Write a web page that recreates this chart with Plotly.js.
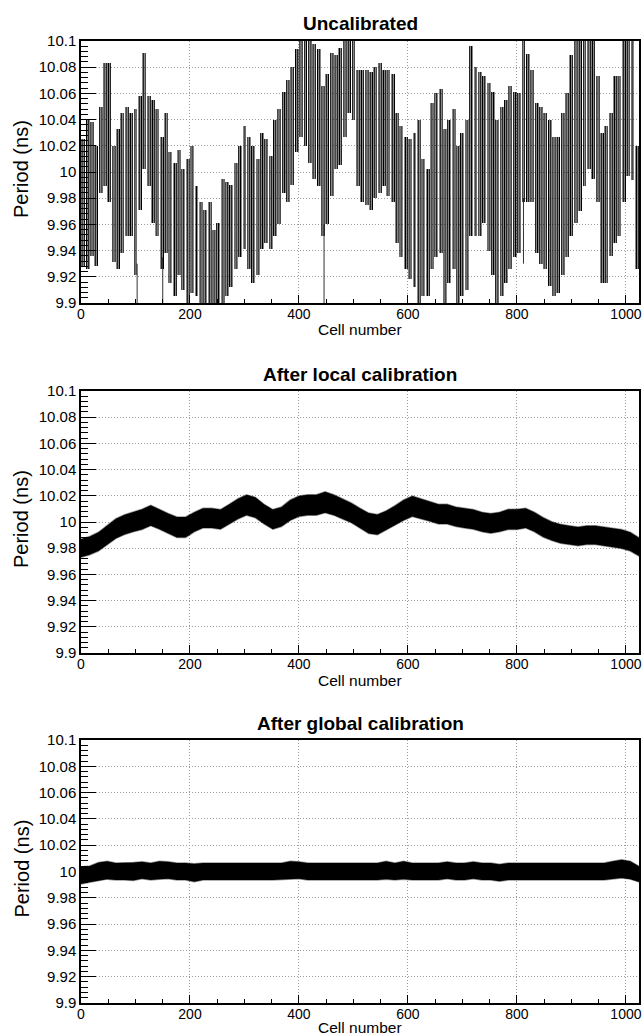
<!DOCTYPE html>
<html>
<head>
<meta charset="utf-8">
<script src="https://cdn.plot.ly/plotly-3.0.1.min.js"></script>
<style>
  html, body { margin: 0; padding: 0; background: #fff; }
  #chart { width: 644px; height: 1036px; }
</style>
</head>
<body>
<div id="chart"></div>
<script>
// ---------- data ----------
const PANEL_TITLES = ["Uncalibrated", "After local calibration", "After global calibration"];
const X_TITLE = "Cell number";
const Y_TITLE = "Period (ns)";
const X_TICKS = [0, 200, 400, 600, 800, 1000];
const X_TICK_LABELS = ["0", "200", "400", "600", "800", "1000"];
const Y_TICKS = [9.9, 9.92, 9.94, 9.96, 9.98, 10, 10.02, 10.04, 10.06, 10.08, 10.1];
const Y_TICK_LABELS = ["9.9", "9.92", "9.94", "9.96", "9.98", "10", "10.02", "10.04", "10.06", "10.08", "10.1"];

// Uncalibrated: spread of measured periods per group of 8 cells (group start cell)
const UNCAL_GROUP_START = [
  0,8,16,24,32,40,48,56,64,72,80,88,96,104,112,120,128,136,144,152,160,168,176,184,192,200,208,216,224,232,240,248,
  256,264,272,280,288,296,304,312,320,328,336,344,352,360,368,376,384,392,400,408,416,424,432,440,448,456,464,472,480,488,496,504,
  512,520,528,536,544,552,560,568,576,584,592,600,608,616,624,632,640,648,656,664,672,680,688,696,704,712,720,728,736,744,752,760,
  768,776,784,792,800,808,816,824,832,840,848,856,864,872,880,888,896,904,912,920,928,936,944,952,960,968,976,984,992,1000,1008,1016];
const UNCAL_HI = [
  10.025,10.040,10.038,10.020,10.050,10.083,10.083,10.020,10.033,10.045,
  10.050,10.045,10.048,10.058,10.091,10.058,10.055,10.048,10.027,10.045,
  10.015,10.007,10.017,10.002,10.010,10.020,9.989,9.977,9.971,9.977,
  9.956,9.961,9.995,9.992,9.990,10.007,10.020,10.035,10.027,10.020,
  10.010,10.030,10.025,10.012,10.040,10.048,10.061,10.070,10.080,10.094,
  10.1,10.1,10.1,10.098,10.094,10.066,10.075,10.091,10.089,10.095,
  10.1,10.1,10.1,10.078,10.078,10.078,10.076,10.080,10.083,10.078,
  10.078,10.075,10.045,10.035,10.027,10.025,10.030,10.040,10.010,10.002,
  10.053,10.060,10.063,10.033,10.040,10.048,10.020,10.030,10.040,10.096,
  10.080,10.076,10.073,10.068,10.061,10.040,10.050,10.055,10.066,10.061,
  10.060,10.1,10.090,10.078,10.053,10.050,10.045,10.040,10.027,10.027,
  10.045,10.060,10.089,10.1,10.1,10.1,10.1,10.1,10.073,10.030,
  10.035,10.045,10.073,10.073,10.1,10.1,10.1,10.020];
const UNCAL_LO = [
  9.928,9.926,9.936,9.928,9.984,9.989,9.977,9.931,9.926,9.938,
  9.951,9.951,9.921,9.971,10.002,9.989,9.961,9.951,9.926,9.938,
  9.915,9.905,9.921,9.910,9.900,9.908,9.905,9.900,9.900,9.900,
  9.900,9.900,9.900,9.905,9.912,9.926,9.935,9.941,9.926,9.915,
  9.921,9.941,9.946,9.941,9.951,9.960,9.984,9.977,9.990,10.015,
  10.027,10.020,10.007,9.995,9.989,9.951,9.960,9.982,10.002,10.005,
  10.027,10.045,10.040,9.989,9.977,9.975,9.971,9.980,9.984,9.989,
  9.982,9.977,9.946,9.935,9.926,9.918,9.912,9.900,9.905,9.905,
  9.926,9.935,9.938,9.900,9.915,9.926,9.900,9.905,9.910,9.951,
  9.951,9.951,9.961,9.940,9.921,9.900,9.905,9.915,9.926,9.935,
  9.938,9.977,9.977,9.977,9.938,9.930,9.926,9.913,9.905,9.908,
  9.921,9.935,9.951,9.961,9.970,9.989,10.002,9.995,9.977,9.915,
  9.915,9.936,9.946,9.951,9.977,9.997,9.994,9.926];
// isolated long streaks of single cells
const SPIKE_CELLS = [103, 150, 446, 812];
const SPIKE_LO = [9.900, 9.900, 9.900, 9.930];
const SPIKE_HI = [9.930, 9.935, 9.960, 9.980];

// Calibrated panels: band mean and half-width, sampled every 16 cells
const BAND_CELLS = [
  0,16,32,48,64,80,96,112,128,144,160,176,192,208,224,240,256,272,288,304,320,336,352,368,384,400,416,432,448,464,480,496,
  512,528,544,560,576,592,608,624,640,656,672,688,704,720,736,752,768,784,800,816,832,848,864,880,896,912,928,944,960,976,992,1008,1024];
const LOCAL_MEAN = [
  9.980,9.982,9.985,9.990,9.995,9.998,10.000,10.002,10.005,10.002,9.999,9.996,9.996,10.000,10.003,10.003,
  10.002,10.006,10.010,10.013,10.011,10.006,10.002,10.004,10.009,10.012,10.013,10.013,10.015,10.013,10.010,10.007,
  10.003,9.999,9.998,10.001,10.005,10.009,10.012,10.010,10.008,10.006,10.006,10.004,10.003,10.002,10.000,9.999,
  10.000,10.002,10.002,10.003,10.000,9.996,9.993,9.991,9.990,9.989,9.990,9.990,9.989,9.988,9.987,9.985,9.981];
const LOCAL_HALF = [
  0.0070,0.0070,0.0072,0.0075,0.0075,0.0075,0.0075,0.0078,0.0078,0.0075,0.0075,0.0078,0.0078,0.0075,0.0075,0.0075,
  0.0075,0.0075,0.0078,0.0078,0.0078,0.0075,0.0075,0.0075,0.0078,0.0078,0.0078,0.0078,0.0080,0.0078,0.0078,0.0075,
  0.0075,0.0078,0.0078,0.0075,0.0075,0.0078,0.0078,0.0078,0.0075,0.0075,0.0075,0.0075,0.0075,0.0075,0.0075,0.0075,
  0.0075,0.0078,0.0078,0.0075,0.0075,0.0075,0.0072,0.0072,0.0072,0.0072,0.0072,0.0072,0.0072,0.0072,0.0072,0.0072,0.0070];
const GLOBAL_MEAN = [
  9.997,9.998,10.000,10.001,10.000,10.000,10.000,10.001,10.000,10.001,10.001,10.000,10.000,9.999,10.000,10.000,
  10.000,10.000,10.000,10.000,10.000,10.000,10.000,10.000,10.001,10.001,10.000,10.000,10.000,10.000,10.000,10.000,
  10.000,10.000,10.000,10.001,10.000,10.001,10.000,10.000,10.000,10.000,10.001,10.000,10.000,10.001,10.000,10.000,
  9.999,10.000,10.000,10.000,10.000,10.000,10.000,10.000,10.000,10.000,10.000,10.000,10.000,10.001,10.002,10.001,9.998];
const GLOBAL_HALF = [
  0.0065,0.0062,0.0068,0.0068,0.0065,0.0065,0.0068,0.0065,0.0065,0.0068,0.0065,0.0065,0.0065,0.0068,0.0065,0.0065,
  0.0065,0.0065,0.0065,0.0065,0.0065,0.0065,0.0065,0.0065,0.0068,0.0065,0.0065,0.0065,0.0065,0.0065,0.0065,0.0065,
  0.0065,0.0065,0.0065,0.0068,0.0065,0.0068,0.0065,0.0065,0.0065,0.0065,0.0065,0.0065,0.0065,0.0065,0.0065,0.0065,
  0.0065,0.0065,0.0065,0.0065,0.0065,0.0065,0.0065,0.0065,0.0065,0.0065,0.0065,0.0065,0.0065,0.0068,0.0070,0.0068,0.0060];

// ---------- build traces ----------
const GROUP_SPAN = UNCAL_GROUP_START[1] - UNCAL_GROUP_START[0];
const uncal = {
  type: 'bar', xaxis: 'x', yaxis: 'y',
  x: UNCAL_GROUP_START.map(c => c + GROUP_SPAN / 2),
  y: UNCAL_HI.map((h, i) => h - UNCAL_LO[i]),
  base: UNCAL_LO,
  width: GROUP_SPAN * 0.9,
  marker: {
    color: 'rgba(0,0,0,0.45)',
    line: {width: 0},
    pattern: {shape: '|', fgcolor: '#000', bgcolor: 'rgba(0,0,0,0.22)', size: 2.2, solidity: 0.55}
  },
  hoverinfo: 'skip', showlegend: false
};
const spikeX = [], spikeY = [];
SPIKE_CELLS.forEach((c, i) => { spikeX.push(c, c, null); spikeY.push(SPIKE_LO[i], SPIKE_HI[i], null); });
const spikes = {
  type: 'scatter', mode: 'lines', xaxis: 'x', yaxis: 'y', x: spikeX, y: spikeY,
  line: {color: 'rgba(0,0,0,0.8)', width: 1}, hoverinfo: 'skip', showlegend: false
};

function band(mean, half, xa, ya) {
  const hi = mean.map((m, i) => m + half[i]);
  const lo = mean.map((m, i) => m - half[i]);
  return {
    type: 'scatter', mode: 'lines', xaxis: xa, yaxis: ya,
    x: BAND_CELLS.concat(BAND_CELLS.slice().reverse()),
    y: hi.concat(lo.slice().reverse()),
    fill: 'toself', fillcolor: '#000',
    line: {color: 'rgba(0,0,0,0.4)', width: 1.5},
    hoverinfo: 'skip', showlegend: false
  };
}

const traces = [uncal, spikes, band(LOCAL_MEAN, LOCAL_HALF, 'x2', 'y2'), band(GLOBAL_MEAN, GLOBAL_HALF, 'x3', 'y3')];

// ---------- layout ----------
const FONT = 'Liberation Sans, Arial, Helvetica, sans-serif';
const W = 644, H = 1036, ML = 81, MR = 5;
const PLOT_W = W - ML - MR;
const PANELS_PX = [[41, 303], [391, 653], [740, 1003]];
const X_TITLE_OFFSET = [27, 27, 24.5];

function xaxisDef(anchor) {
  return {
    anchor: anchor, domain: [0, 1], range: [0, 1024],
    tickmode: 'array', tickvals: X_TICKS, ticktext: X_TICK_LABELS,
    ticks: 'inside', ticklen: 8, tickwidth: 1, tickcolor: '#000',
    minor: {ticks: 'inside', ticklen: 4, dtick: 50, tickwidth: 1, tickcolor: '#000', showgrid: false},
    ticklabelstandoff: -3,
    showline: true, linecolor: '#000', linewidth: 1.5, mirror: true,
    showgrid: true, gridcolor: '#9a9a9a', griddash: '1px,2px', gridwidth: 1,
    zeroline: false, fixedrange: true, automargin: false,
    tickfont: {family: FONT, size: 14, color: '#000'}
  };
}
function yaxisDef(anchor, px) {
  return {
    anchor: anchor, domain: [1 - px[1] / H, 1 - px[0] / H], range: [9.9, 10.1],
    tickmode: 'array', tickvals: Y_TICKS, ticktext: Y_TICK_LABELS,
    ticks: 'inside', ticklen: 15, tickwidth: 1, tickcolor: '#000',
    minor: {ticks: 'inside', ticklen: 7, dtick: 0.004, tickwidth: 1, tickcolor: '#000', showgrid: false},
    showline: true, linecolor: '#000', linewidth: 1.5, mirror: true,
    showgrid: true, gridcolor: '#9a9a9a', griddash: '1px,2px', gridwidth: 1,
    zeroline: false, fixedrange: true, automargin: false,
    tickfont: {family: FONT, size: 15, color: '#000'}
  };
}

const annotations = [];
PANELS_PX.forEach((px, i) => {
  annotations.push({
    text: '<b>' + PANEL_TITLES[i] + '</b>', xref: 'paper', yref: 'paper',
    x: 0.5, y: 1 - (px[0] - 17) / H, xanchor: 'center', yanchor: 'middle',
    showarrow: false, font: {family: FONT, size: 19, color: '#000'}
  });
  annotations.push({
    text: X_TITLE, xref: 'paper', yref: 'paper',
    x: 0.5, y: 1 - (px[1] + X_TITLE_OFFSET[i]) / H, xanchor: 'center', yanchor: 'middle',
    showarrow: false, font: {family: FONT, size: 15.5, color: '#000'}
  });
  annotations.push({
    text: Y_TITLE, xref: 'paper', yref: 'paper', textangle: -90,
    x: (21 - ML) / PLOT_W, y: 1 - ((px[0] + px[1]) / 2 - 3) / H, xanchor: 'center', yanchor: 'middle',
    showarrow: false, font: {family: FONT, size: 20, color: '#000'}
  });
});

const layout = {
  width: W, height: H,
  margin: {l: ML, r: MR, t: 0, b: 0},
  paper_bgcolor: '#fff', plot_bgcolor: '#fff',
  bargap: 0,
  xaxis: xaxisDef('y'), yaxis: yaxisDef('x', PANELS_PX[0]),
  xaxis2: xaxisDef('y2'), yaxis2: yaxisDef('x2', PANELS_PX[1]),
  xaxis3: xaxisDef('y3'), yaxis3: yaxisDef('x3', PANELS_PX[2]),
  annotations: annotations,
  showlegend: false
};

Plotly.newPlot('chart', traces, layout, {displayModeBar: false});
</script>
</body>
</html>
